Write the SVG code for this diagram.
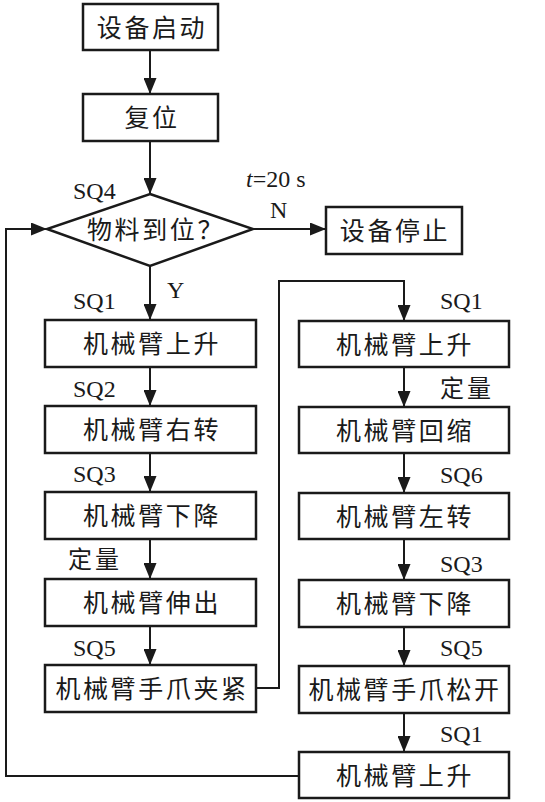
<svg xmlns="http://www.w3.org/2000/svg" width="545" height="802" viewBox="0 0 545 802">
<style>
.box{fill:#fff;stroke:#1a1a1a;stroke-width:2.5}
.ln{fill:none;stroke:#1a1a1a;stroke-width:2}
.cn{font-family:"Liberation Serif","Noto Sans CJK SC",serif;font-size:25px;fill:#1a1a1a;letter-spacing:2.6px;text-anchor:middle;dominant-baseline:central}
.lb{font-family:"Liberation Serif","Noto Sans CJK SC",serif;font-size:24px;fill:#1a1a1a}
.lc{font-family:"Liberation Serif","Noto Sans CJK SC",serif;font-size:24px;fill:#1a1a1a;letter-spacing:3px}
</style>
<defs>
<marker id="ah" markerWidth="16" markerHeight="13" refX="16" refY="6.5" orient="auto" markerUnits="userSpaceOnUse">
<path d="M0,0 L16,6.5 L0,13 z" fill="#1a1a1a"/>
</marker>
</defs>
<g id="connectors">
<path class="ln" d="M150,50 V94" marker-end="url(#ah)"/>
<path class="ln" d="M150,141 V194" marker-end="url(#ah)"/>
<path class="ln" d="M253,229 H326" marker-end="url(#ah)"/>
<path class="ln" d="M150,266 V320" marker-end="url(#ah)"/>
<path class="ln" d="M150,367 V406" marker-end="url(#ah)"/>
<path class="ln" d="M150,453 V492" marker-end="url(#ah)"/>
<path class="ln" d="M150,539 V579" marker-end="url(#ah)"/>
<path class="ln" d="M150,626 V665" marker-end="url(#ah)"/>
<path class="ln" d="M256,688 H279 V281 H404 V321" marker-end="url(#ah)"/>
<path class="ln" d="M404,367 V407" marker-end="url(#ah)"/>
<path class="ln" d="M404,453 V493" marker-end="url(#ah)"/>
<path class="ln" d="M404,539 V580" marker-end="url(#ah)"/>
<path class="ln" d="M404,627 V666" marker-end="url(#ah)"/>
<path class="ln" d="M404,713 V752" marker-end="url(#ah)"/>
<path class="ln" d="M299,776 H6 V229 H47" marker-end="url(#ah)"/>
</g>
<g id="labels">
<text class="lb" x="73" y="199">SQ4</text>
<text class="lb" x="246" y="187"><tspan font-style="italic">t</tspan>=20 s</text>
<text class="lb" x="270" y="218">N</text>
<text class="lb" x="167" y="298">Y</text>
<text class="lb" x="73" y="309">SQ1</text>
<text class="lb" x="73" y="397">SQ2</text>
<text class="lb" x="73" y="482">SQ3</text>
<text class="lc" x="68" y="568">定量</text>
<text class="lb" x="73" y="656">SQ5</text>
<text class="lb" x="440" y="309">SQ1</text>
<text class="lc" x="440" y="397">定量</text>
<text class="lb" x="440" y="483">SQ6</text>
<text class="lb" x="440" y="572">SQ3</text>
<text class="lb" x="440" y="656">SQ5</text>
<text class="lb" x="440" y="742">SQ1</text>
</g>
<g id="start"><rect class="box" x="83" y="4" width="135" height="46"/><text class="cn" x="152" y="28">设备启动</text></g>
<g id="reset"><rect class="box" x="83" y="94" width="135" height="47"/><text class="cn" x="152" y="118">复位</text></g>
<g id="check"><path class="box" d="M150,194 L253,229 L150,266 L47,229 z"/><text class="cn" x="156" y="230">物料到位？</text></g>
<g id="stop"><rect class="box" x="326" y="207" width="136" height="47"/><text class="cn" x="395" y="231">设备停止</text></g>
<g id="l1"><rect class="box" x="45" y="320" width="211" height="47"/><text class="cn" x="152" y="344">机械臂上升</text></g>
<g id="l2"><rect class="box" x="45" y="406" width="211" height="47"/><text class="cn" x="152" y="430">机械臂右转</text></g>
<g id="l3"><rect class="box" x="45" y="492" width="211" height="47"/><text class="cn" x="152" y="516">机械臂下降</text></g>
<g id="l4"><rect class="box" x="45" y="579" width="211" height="47"/><text class="cn" x="152" y="603">机械臂伸出</text></g>
<g id="l5"><rect class="box" x="45" y="665" width="211" height="47"/><text class="cn" x="152" y="689">机械臂手爪夹紧</text></g>
<g id="r1"><rect class="box" x="299" y="321" width="210" height="46"/><text class="cn" x="405" y="345">机械臂上升</text></g>
<g id="r2"><rect class="box" x="299" y="407" width="210" height="46"/><text class="cn" x="405" y="431">机械臂回缩</text></g>
<g id="r3"><rect class="box" x="299" y="493" width="210" height="46"/><text class="cn" x="405" y="517">机械臂左转</text></g>
<g id="r4"><rect class="box" x="299" y="580" width="210" height="47"/><text class="cn" x="405" y="604">机械臂下降</text></g>
<g id="r5"><rect class="box" x="299" y="666" width="210" height="47"/><text class="cn" x="405" y="690">机械臂手爪松开</text></g>
<g id="r6"><rect class="box" x="299" y="752" width="210" height="46"/><text class="cn" x="405" y="776">机械臂上升</text></g>
</svg>
